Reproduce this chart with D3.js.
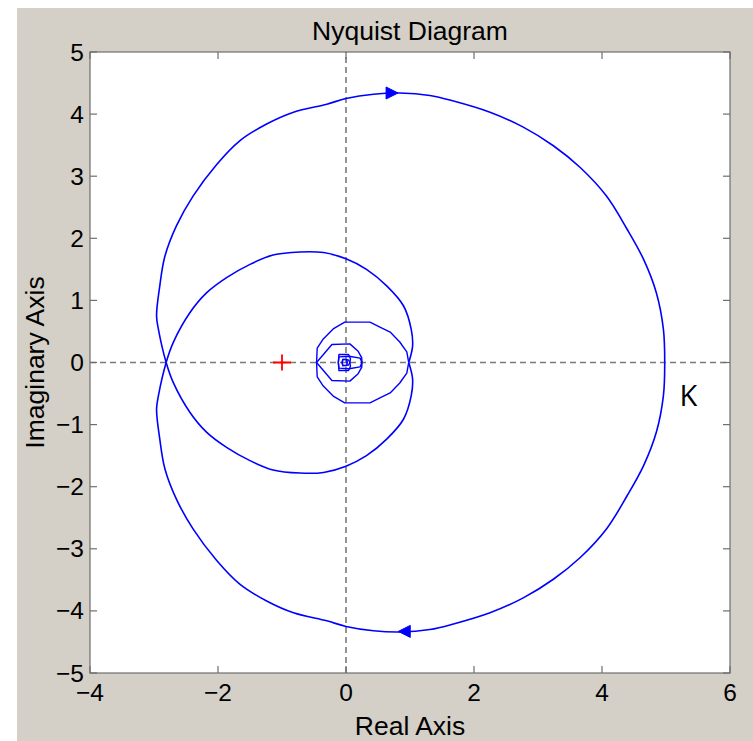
<!DOCTYPE html>
<html>
<head>
<meta charset="utf-8">
<script src="https://cdn.jsdelivr.net/npm/d3@7"></script>
<style>
html,body{margin:0;padding:0;background:#fff;}
svg{display:block;}
</style>
</head>
<body>
<svg id="chart" width="753" height="741"></svg>
<script>
// ---- data ----
const xTicks = [-4, -2, 0, 2, 4, 6];
const yTicks = [-5, -4, -3, -2, -1, 0, 1, 2, 3, 4, 5];
// positive-frequency branch (Re, Im)
const posRe = [4.98, 4.96, 4.85, 4.65, 4.39, 4.07, 3.66, 3.24, 2.77, 2.25, 1.68, 1.31, 0.84, 0.43, 0.00, -0.30, -0.82, -1.24, -1.66, -2.02, -2.39, -2.65, -2.83, -2.91, -2.96, -2.93, -2.81,
  -2.70, -2.44, -2.18, -1.86, -1.50, -1.14, -0.72, -0.35, 0.00, 0.32, 0.64, 0.90, 1.02, 1.04, 0.98,
  0.95, 0.84, 0.69, 0.53, 0.375, -0.02, -0.20, -0.355, -0.45, -0.46,
  -0.22, 0.06, 0.19, 0.245, 0.25,
  0.22, 0.05, -0.11, -0.12,
  -0.11, 0.04, 0.07, 0.06,
  0.04, -0.05, -0.06,
  -0.05, 0.01, 0.02, 0.0];
const posIm = [0, -0.53, -1.12, -1.66, -2.15, -2.68, -3.14, -3.49, -3.79, -4.03, -4.21, -4.30, -4.34, -4.32, -4.25, -4.16, -4.03, -3.84, -3.57, -3.19, -2.68, -2.20, -1.71, -1.23, -0.75, -0.53, 0,
  0.32, 0.80, 1.12, 1.37, 1.58, 1.73, 1.78, 1.77, 1.67, 1.50, 1.23, 0.91, 0.53, 0.26, 0,
  -0.17, -0.33, -0.49, -0.57, -0.65, -0.65, -0.54, -0.38, -0.23, 0,
  0.29, 0.30, 0.18, 0.08, 0,
  -0.07, -0.10, -0.09, 0,
  0.13, 0.13, 0.06, 0,
  -0.04, -0.05, 0,
  0.05, 0.05, 0, 0];
const smoothCount = 42; // outer loops drawn smooth, inner loops as sampled polygon
const arrowRe = [0.72, 0.91];
const arrowIm = [4.34, -4.33];
const arrowDir = [1, -1];
const critRe = [-1];
const critIm = [0];
const labelK = {text: "K", re: 5.35, im: -0.52};

// ---- layout ----
const svg = d3.select("#chart");
const L = 90, R = 730, T = 52, B = 673;
const x = d3.scaleLinear().domain([-4, 6]).range([L, R]);
const y = d3.scaleLinear().domain([-5, 5]).range([B, T]);
const font = "'Liberation Sans', Arial, Helvetica, sans-serif";

svg.append("rect").attr("x", 0).attr("y", 0).attr("width", 753).attr("height", 741).attr("fill", "#ffffff");
svg.append("rect").attr("x", 17).attr("y", 8).attr("width", 736).attr("height", 733).attr("fill", "#d4d0c8");
svg.append("rect").attr("x", L).attr("y", T).attr("width", R - L).attr("height", B - T).attr("fill", "#ffffff");

svg.append("clipPath").attr("id", "pc").append("rect")
  .attr("x", L).attr("y", T).attr("width", R - L).attr("height", B - T);

// dashed zero lines
const g = svg.append("g").attr("clip-path", "url(#pc)");
g.append("line").attr("x1", x(-4)).attr("x2", x(6)).attr("y1", y(0)).attr("y2", y(0))
  .attr("stroke", "#7a7a7a").attr("stroke-width", 1.6).attr("stroke-dasharray", "6,4");
g.append("line").attr("x1", x(0)).attr("x2", x(0)).attr("y1", y(-5)).attr("y2", y(5))
  .attr("stroke", "#7a7a7a").attr("stroke-width", 1.6).attr("stroke-dasharray", "6,4");

// curves
const pts = posRe.map((r, i) => [r, posIm[i]]);
const smoothLine = d3.line().x(d => x(d[0])).y(d => y(d[1])).curve(d3.curveCatmullRom.alpha(0.5));
const polyLine = d3.line().x(d => x(d[0])).y(d => y(d[1]));
[1, -1].forEach(s => {
  const p = pts.map(d => [d[0], s * d[1]]);
  g.append("path").attr("d", smoothLine(p.slice(0, smoothCount))).attr("fill", "none")
    .attr("stroke", "#0000ff").attr("stroke-width", 1.6).attr("stroke-linejoin", "round");
  g.append("path").attr("d", polyLine(p.slice(smoothCount - 1))).attr("fill", "none")
    .attr("stroke", "#0000ff").attr("stroke-width", 1.4).attr("stroke-linejoin", "round");
});

// arrows
arrowRe.forEach((r, i) => {
  const cx = x(r), cy = y(arrowIm[i]), d = arrowDir[i];
  const p = `M${cx + 6 * d},${cy} L${cx - 6 * d},${cy - 6} L${cx - 6 * d},${cy + 6} Z`;
  g.append("path").attr("d", p).attr("fill", "#0000ff").attr("stroke", "#0000ff").attr("stroke-width", 1);
});

// critical point
critRe.forEach((r, i) => {
  const cx = x(r), cy = y(critIm[i]);
  g.append("path").attr("d", `M${cx - 9},${cy} H${cx + 9} M${cx},${cy - 8} V${cy + 8}`)
    .attr("stroke", "#ff0000").attr("stroke-width", 1.8).attr("fill", "none");
});

// axes box + inward ticks
const axisCol = "#6e6e6e";
const tl = 7;
svg.append("rect").attr("x", L).attr("y", T).attr("width", R - L).attr("height", B - T)
  .attr("fill", "none").attr("stroke", axisCol).attr("stroke-width", 1.2);
const ax = svg.append("g");
xTicks.forEach(v => {
  ax.append("line").attr("x1", x(v)).attr("x2", x(v)).attr("y1", B).attr("y2", B - tl).attr("stroke", axisCol).attr("stroke-width", 1.2);
  ax.append("line").attr("x1", x(v)).attr("x2", x(v)).attr("y1", T).attr("y2", T + tl).attr("stroke", axisCol).attr("stroke-width", 1.2);
});
yTicks.forEach(v => {
  ax.append("line").attr("x1", L).attr("x2", L + tl).attr("y1", y(v)).attr("y2", y(v)).attr("stroke", axisCol).attr("stroke-width", 1.2);
  ax.append("line").attr("x1", R).attr("x2", R - tl).attr("y1", y(v)).attr("y2", y(v)).attr("stroke", axisCol).attr("stroke-width", 1.2);
});
const fmt = v => (v < 0 ? "\u2212" + Math.abs(v) : String(v));
xTicks.forEach(v => {
  ax.append("text").attr("x", x(v)).attr("y", B + 28).attr("text-anchor", "middle")
    .attr("font-family", font).attr("font-size", 24.5).attr("fill", "#000").text(fmt(v));
});
yTicks.forEach(v => {
  ax.append("text").attr("x", L - 6).attr("y", y(v) + 8.5).attr("text-anchor", "end")
    .attr("font-family", font).attr("font-size", 24.5).attr("fill", "#000").text(fmt(v));
});

// titles
svg.append("text").attr("x", (L + R) / 2).attr("y", 40).attr("text-anchor", "middle")
  .attr("font-family", font).attr("font-size", 26.5).attr("fill", "#000").text("Nyquist Diagram");
svg.append("text").attr("x", (L + R) / 2).attr("y", 734.5).attr("text-anchor", "middle")
  .attr("font-family", font).attr("font-size", 26.5).attr("fill", "#000").text("Real Axis");
svg.append("text").attr("transform", `translate(44,${(T + B) / 2}) rotate(-90)`).attr("text-anchor", "middle")
  .attr("font-family", font).attr("font-size", 26.5).attr("fill", "#000").text("Imaginary Axis");

// K annotation
svg.append("text").attr("x", x(labelK.re)).attr("y", y(labelK.im) + 11).attr("text-anchor", "middle")
  .attr("font-family", "'Open Sans', 'Noto Sans', sans-serif").attr("font-size", 29).attr("fill", "#000").text(labelK.text);
</script>
</body>
</html>
